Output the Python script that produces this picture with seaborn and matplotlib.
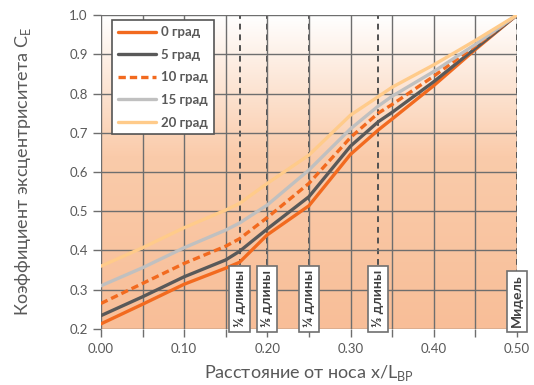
import numpy as np
import pandas as pd
import matplotlib
matplotlib.use("Agg")
import matplotlib.pyplot as plt
from matplotlib.colors import LinearSegmentedColormap
import seaborn as sns

# Distance from the bow, fraction of waterline length
x_pos = [0.00, 0.05, 0.10, 0.15, 1/6, 0.20, 0.25, 0.30, 1/3, 0.35, 0.40, 0.45, 0.50]

# Eccentricity coefficient for each heel angle
ce_0 = [0.213, 0.263, 0.314, 0.355, 0.370, 0.440, 0.514, 0.645, 0.707, 0.735, 0.820, 0.912, 1.0]
ce_5 = [0.234, 0.282, 0.333, 0.376, 0.398, 0.455, 0.537, 0.666, 0.728, 0.752, 0.830, 0.915, 1.0]
ce_10 = [0.265, 0.316, 0.367, 0.411, 0.430, 0.484, 0.571, 0.688, 0.750, 0.772, 0.844, 0.922, 1.0]
ce_15 = [0.310, 0.356, 0.407, 0.452, 0.470, 0.516, 0.605, 0.710, 0.768, 0.793, 0.856, 0.925, 1.0]
ce_20 = [0.360, 0.407, 0.458, 0.503, 0.520, 0.571, 0.643, 0.745, 0.792, 0.816, 0.873, 0.935, 1.0]

series_names = ["0 град", "5 град", "10 град", "15 град", "20 град"]
series_values = [ce_0, ce_5, ce_10, ce_15, ce_20]
series_colors = ["#F26A1F", "#595959", "#F26A1F", "#C0C0C0", "#FFCB8A"]
series_dashes = ["-", "-", (0, (2.2, 1.2)), "-", "-"]

# Reference stations along the hull
marker_x = [1/6, 0.20, 0.25, 1/3, 0.50]
marker_labels = ["⅙ длины", "⅕ длины", "¼ длины", "⅓ длины", "Мидель"]

x_ticks = [0.00, 0.10, 0.20, 0.30, 0.40, 0.50]
y_ticks = [0.2, 0.3, 0.4, 0.5, 0.6, 0.7, 0.8, 0.9, 1.0]

sns.set_theme(style="white")
plt.rcParams["font.family"] = ["Lato", "DejaVu Sans"]

fig = plt.figure(figsize=(5.34, 3.85), dpi=100)
ax = fig.add_axes([0.189, 0.1455, 0.779, 0.8155])

# Vertical gradient background: white at the top to peach lower down
grad_cmap = LinearSegmentedColormap.from_list(
    "peach", [(0.0, "#F8BE98"), (0.55, "#FACBAA"), (1.0, "#FFFFFF")])
yy = np.linspace(0, 1, 256).reshape(-1, 1)
ax.imshow(yy, cmap=grad_cmap, origin="lower", aspect="auto",
          extent=[0.0, 0.5, 0.2, 1.0], zorder=0)

grid_c = "#6E6E6E"
ax.set_xlim(0.0, 0.5)
ax.set_ylim(0.2, 1.0)
ax.set_xticks(x_ticks)
ax.set_xticks(np.arange(0.05, 0.5, 0.1), minor=True)
ax.set_yticks(y_ticks)
ax.set_xticklabels([f"{v:.2f}" for v in x_ticks])
ax.set_yticklabels([f"{v:.1f}" for v in y_ticks])
ax.grid(True, which="both", color=grid_c, linewidth=1.0, zorder=1)
ax.set_axisbelow(False)
ax.tick_params(axis="both", which="both", direction="out", length=6,
               width=1.0, color=grid_c, labelsize=9.5, labelcolor="#595959",
               bottom=True, left=True)
ax.tick_params(axis="x", pad=4)
for s in ax.spines.values():
    s.set_visible(False)

# Dashed station lines
for mx in marker_x:
    ax.axvline(mx, color="#505050", linestyle=(0, (3, 2.5)), linewidth=1.4, zorder=2)

rows = []
for name, vals in zip(series_names, series_values):
    for xv, yv in zip(x_pos, vals):
        rows.append({"x": xv, "ce": yv, "angle": name})
df = pd.DataFrame(rows)

for name, col, dash in zip(series_names, series_colors, series_dashes):
    sub = df[df["angle"] == name]
    sns.lineplot(data=sub, x="x", y="ce", ax=ax, color=col, linewidth=2.4,
                 linestyle=dash, label=name, sort=False, zorder=4)

# Station captions in boxes at the bottom
for mx, lab in zip(marker_x, marker_labels):
    ax.text(mx, 0.204, lab, rotation=90, ha="center", va="bottom",
            fontsize=10, fontweight="bold", color="#404040",
            family=["Lato", "DejaVu Sans"],
            bbox=dict(boxstyle="square,pad=0.3", fc="white", ec="#707070", lw=1.2),
            zorder=6, clip_on=False)

leg = ax.legend(loc="upper left", bbox_to_anchor=(0.027, 0.983), frameon=True,
                fancybox=False, fontsize=9.5, handlelength=2.9, labelspacing=0.8,
                borderpad=0.45, handletextpad=0.35, borderaxespad=0.0)
leg.get_frame().set_edgecolor("#555555")
leg.get_frame().set_linewidth(1.2)
leg.get_frame().set_facecolor("white")
leg.get_frame().set_alpha(1.0)
leg.set_zorder(7)
for t in leg.get_texts():
    t.set_fontweight("bold")
    t.set_color("#595959")

ax.set_xlabel("Расстояние от носа x/L$_{\\mathregular{ВР}}$", fontsize=13,
              color="#595959", labelpad=6)
ax.set_ylabel("Коэффициент эксцентриситета C$_{\\mathregular{E}}$", fontsize=13,
              color="#595959", labelpad=26)

fig.savefig("out.png", dpi=100)
